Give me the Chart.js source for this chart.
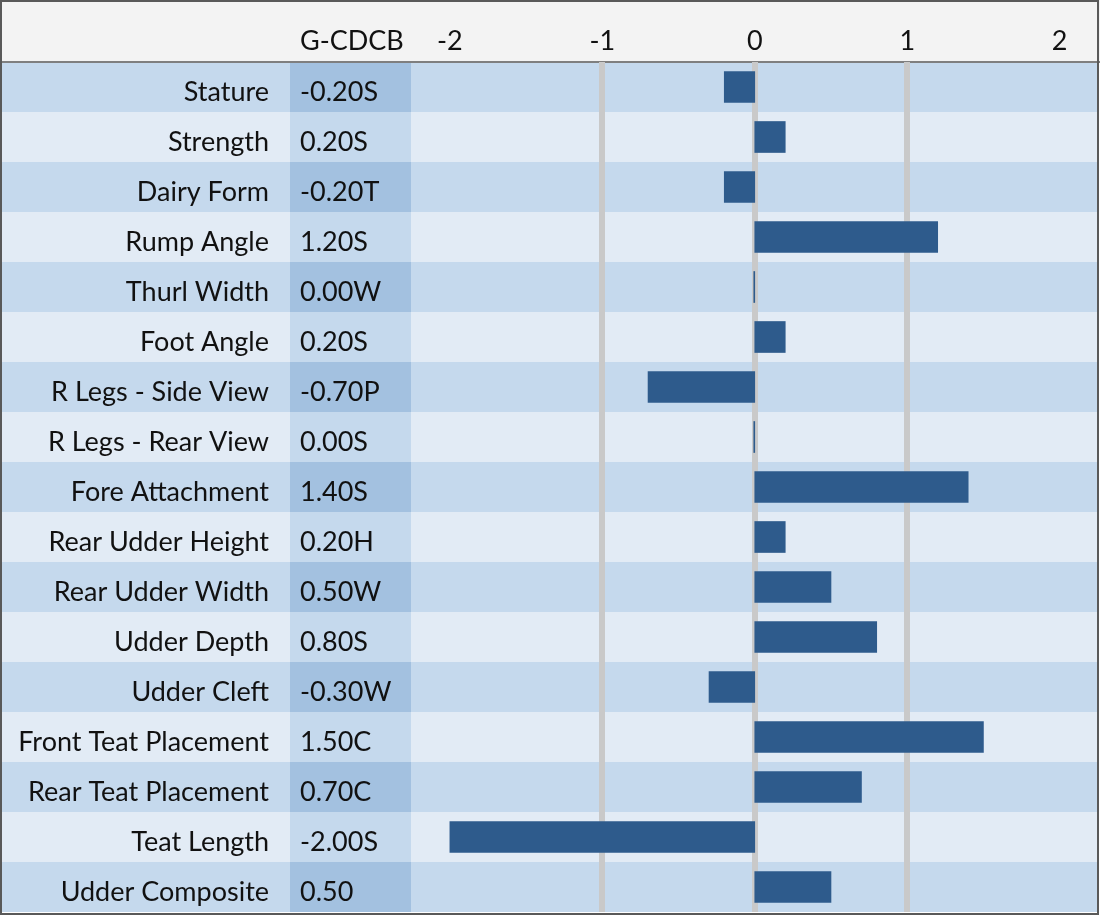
<!DOCTYPE html>
<html lang="en">
<head>
    <meta charset="UTF-8">
    <title>G-CDCB</title>
    <script src="https://cdn.jsdelivr.net/npm/chart.js"></script>
    <style>
        html, body { margin: 0; padding: 0; background: #fff; }
        #wrap { width: 1100px; height: 917px; }
    </style>
</head>
<body>
    <div id="wrap"><canvas id="traitChart" width="1100" height="917"></canvas></div>
    <script>
    // 形質名・G-CDCB表示・値
    const categories = ['Stature', 'Strength', 'Dairy Form', 'Rump Angle', 'Thurl Width', 'Foot Angle',
        'R Legs - Side View', 'R Legs - Rear View', 'Fore Attachment', 'Rear Udder Height',
        'Rear Udder Width', 'Udder Depth', 'Udder Cleft', 'Front Teat Placement',
        'Rear Teat Placement', 'Teat Length', 'Udder Composite'];
    const codes = ['-0.20S', '0.20S', '-0.20T', '1.20S', '0.00W', '0.20S', '-0.70P', '0.00S', '1.40S',
        '0.20H', '0.50W', '0.80S', '-0.30W', '1.50C', '0.70C', '-2.00S', '0.50'];
    const values = [-0.2, 0.2, -0.2, 1.2, 0, 0.2, -0.7, 0, 1.4, 0.2, 0.5, 0.8, -0.3, 1.5, 0.7, -2.0, 0.5];
    const xTicks = [-2, -1, 0, 1, 2];
    const headerTitle = 'G-CDCB';

    const FONT = 'Lato, "Liberation Sans", sans-serif';
    const FONT_SIZE = 27;
    const HEADER_H = 62;
    const LABEL_RIGHT = 269;
    const CODE_LEFT = 290;
    const CODE_RIGHT = 411;

    // 表の背景・列・文字を描くプラグイン
    const tablePlugin = {
        id: 'table',
        beforeDraw(chart) {
            const ctx = chart.ctx;
            const y = chart.scales.y;
            const area = chart.chartArea;
            ctx.save();
            ctx.fillStyle = '#f3f3f3';
            ctx.fillRect(0, 0, chart.width, area.top);
            categories.forEach((c, i) => {
                const cy = y.getPixelForValue(i);
                const top = cy - 25;
                const odd = i % 2 === 0;
                ctx.fillStyle = odd ? '#c5d9ed' : '#e2ebf5';
                ctx.fillRect(0, top, area.right, 50);
                ctx.fillStyle = odd ? '#a3c1e0' : '#c5d9ed';
                ctx.fillRect(CODE_LEFT, top, CODE_RIGHT - CODE_LEFT, 50);
            });
            ctx.strokeStyle = '#7f7f7f';
            ctx.lineWidth = 2;
            ctx.beginPath();
            ctx.moveTo(0, area.top);
            ctx.lineTo(chart.width, area.top);
            ctx.stroke();
            ctx.restore();
        },
        afterDraw(chart) {
            const ctx = chart.ctx;
            const y = chart.scales.y;
            ctx.save();
            ctx.font = FONT_SIZE + 'px ' + FONT;
            ctx.fillStyle = '#111';
            ctx.textBaseline = 'alphabetic';
            categories.forEach((c, i) => {
                const cy = y.getPixelForValue(i) + 14;
                ctx.textAlign = 'right';
                ctx.fillText(c, LABEL_RIGHT, cy);
                ctx.textAlign = 'left';
                ctx.fillText(codes[i], CODE_LEFT + 10, cy);
            });
            ctx.textAlign = 'left';
            ctx.fillText(headerTitle, CODE_LEFT + 10, 50);
            // 外枠
            ctx.strokeStyle = '#595959';
            ctx.lineWidth = 2;
            ctx.strokeRect(1, 1, 1097, 913);
            ctx.restore();
        }
    };

    const ctx = document.getElementById('traitChart').getContext('2d');
    const traitChart = new Chart(ctx, {
        type: 'bar',
        data: {
            labels: categories,
            datasets: [{
                data: values,
                // 0の目盛り線の半幅ぶんバーがずれないよう、基準をごくわずかに外す
                base: 1e-9,
                backgroundColor: '#2e5b8c',
                borderWidth: 0,
                barThickness: 31,
                minBarLength: 1
            }]
        },
        options: {
            indexAxis: 'y',
            responsive: false,
            animation: false,
            layout: {
                padding: { left: CODE_RIGHT, right: 3, top: 0, bottom: 5 }
            },
            plugins: {
                legend: { display: false },
                tooltip: { enabled: false }
            },
            scales: {
                x: {
                    position: 'top',
                    min: -2.255,
                    max: 2.245,
                    afterBuildTicks: scale => {
                        scale.ticks = xTicks.map(v => ({ value: v }));
                    },
                    afterFit: scale => {
                        scale.height = HEADER_H;
                    },
                    border: { display: false },
                    grid: {
                        drawTicks: false,
                        lineWidth: 6,
                        color: c => (c.tick && Math.abs(c.tick.value) <= 1)
                            ? '#c9c9c9' : 'rgba(0,0,0,0)'
                    },
                    ticks: {
                        color: '#111',
                        padding: 5,
                        font: { family: FONT, size: FONT_SIZE }
                    }
                },
                y: {
                    display: false
                }
            }
        },
        plugins: [tablePlugin]
    });
    </script>
</body>
</html>
